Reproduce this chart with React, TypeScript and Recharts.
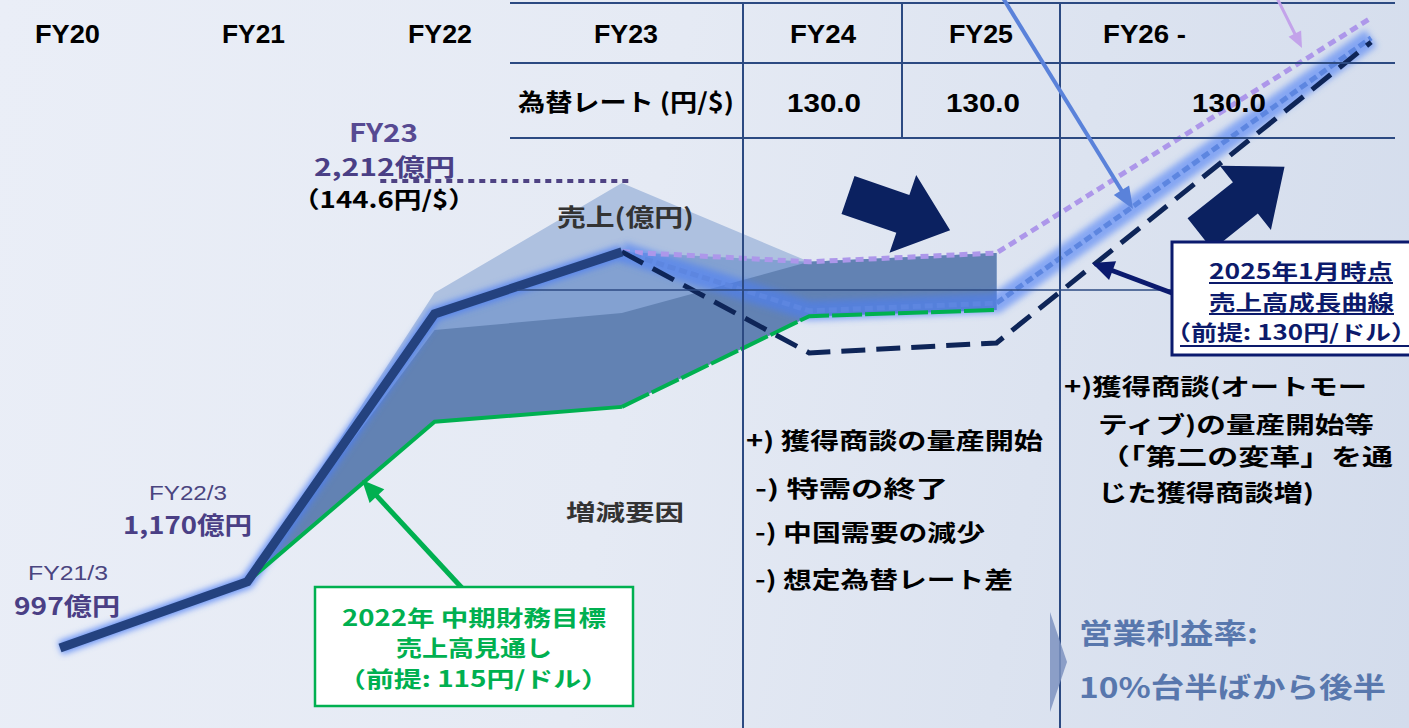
import { ComposedChart, Area, Line, XAxis, YAxis, ReferenceLine } from "recharts"

// fiscal year positions (FY26- drawn at the right edge)
const fiscalYears: number[] = [20, 21, 22, 23, 24, 25, 27]

// 売上 (億円)
const actualSales = [997, 1170, 1870, 2032, null, null, null]
const target2022 = [null, 1170, 1588, 1627, null, null, null]
const target2022Late = [null, null, null, 1627, 1864, 1880, null]
const bandBottom = [null, 1170, 1588, 1627, 1864, 1880, null]
const bandUpper = [null, 1170, 1925, 2212, 2006, 2029, null]
const bandMiddle = [null, 1170, 1870, 2032, 2006, 2029, null]
const bandLower = [null, 1170, 1828, 1872, 2006, 2029, null]
const growth2025 = [null, null, null, 2032, 1768, 1794, 2580]
const growthBlue = [null, null, null, 2032, 1878, 1898, 2591]
const growthPurple = [null, null, null, 2032, 2006, 2029, 2643]

const headerYears = ["FY20", "FY21", "FY22", "FY23", "FY24", "FY25", "FY26 -"]
const rateLabels = ["130.0", "130.0", "130.0"]

const range = (lo: number | null, hi: number | null) =>
	lo == null || hi == null ? null : [lo, hi]

const rows = fiscalYears.map((x, i) => ({
	x,
	actual: actualSales[i],
	target: target2022[i],
	targetLate: target2022Late[i],
	upper: range(bandBottom[i], bandUpper[i]),
	middle: range(bandBottom[i], bandMiddle[i]),
	lower: range(bandBottom[i], bandLower[i]),
	growth: growth2025[i],
	blue: growthBlue[i],
	purple: growthPurple[i],
}))

const JP = "'Noto Sans CJK JP', 'Noto Sans', sans-serif"
const LAT = "'Liberation Sans', 'Noto Sans CJK JP', sans-serif"

interface IT {
	x: number
	y: number
	w: number
	size: number
	color?: string
	weight?: number
	font?: string
	children: string
}

const T = ({ x, y, w, size, color = "#000", weight = 700, font = JP, children }: IT) => (
	<text x={x} y={y} fontSize={size} fill={color} fontWeight={weight} fontFamily={font}
		textLength={w} lengthAdjust="spacingAndGlyphs">{children}</text>
)

interface IArrow {
	x1: number; y1: number; x2: number; y2: number
	color: string; w: number; hl: number; hw: number
}

const Arrow = ({ x1, y1, x2, y2, color, w, hl, hw }: IArrow) => {
	const dx = x2 - x1, dy = y2 - y1
	const L = Math.hypot(dx, dy)
	const ux = dx / L, uy = dy / L
	const bx = x2 - ux * hl, by = y2 - uy * hl
	const px = -uy, py = ux
	return (
		<g>
			<line x1={x1} y1={y1} x2={bx + ux * 2} y2={by + uy * 2} stroke={color} strokeWidth={w} />
			<polygon points={`${x2},${y2} ${bx + px * hw},${by + py * hw} ${bx - px * hw},${by - py * hw}`} fill={color} />
		</g>
	)
}

const BLOCK = "0,-20 58,-20 58,-41 108,0 58,41 58,20 0,20"
const LINE = "#2c4a82"

const Overlay = () => (
	<svg width={1409} height={728} style={{ position: "absolute", left: 0, top: 0 }}>
		{/* table */}
		<g stroke={LINE} strokeWidth={2}>
			<line x1={510} y1={3} x2={1395} y2={3} />
			<line x1={510} y1={63} x2={1395} y2={63} />
			<line x1={510} y1={138} x2={1395} y2={138} />
			<line x1={743} y1={3} x2={743} y2={728} />
			<line x1={902} y1={3} x2={902} y2={138} />
			<line x1={1060} y1={3} x2={1060} y2={728} />
			<line x1={517} y1={290} x2={1172} y2={290} strokeWidth={1.5} />
		</g>
		{[35, 222, 408, 594, 790, 949, 1103].map((x, i) => (
			<T key={headerYears[i]} x={x} y={43} w={[65, 63, 64, 64, 66, 64, 83][i]} size={25} font={LAT}>{headerYears[i]}</T>
		))}
		<T x={518} y={111} w={216} size={24}>為替レート (円/$)</T>
		{[787, 946, 1192].map((x, i) => (
			<T key={x} x={x} y={112} w={74} size={25} font={LAT}>{rateLabels[i]}</T>
		))}

		{/* block arrows */}
		<polygon points={BLOCK} fill="#0b2160" transform="translate(848,195) rotate(19)" />
		<polygon points={BLOCK} fill="#0b2160" transform="translate(1200,234) rotate(-38.5)" />
		<polygon points="1050,612 1067,662 1050,712" fill="#7d92bf" opacity={0.85} />

		{/* pointer arrows */}
		<Arrow x1={1003} y1={-2} x2={1133} y2={209} color="#5a82da" w={4} hl={22} hw={9} />
		<Arrow x1={1277} y1={-2} x2={1302} y2={48} color="#c3a3ea" w={3} hl={16} hw={7} />
		<Arrow x1={1172} y1={293} x2={1092} y2={263} color="#0b1a6e" w={5} hl={22} hw={10} />
		<Arrow x1={462} y1={588} x2={362} y2={480} color="#00b050" w={5} hl={22} hw={10} />

		{/* value labels */}
		<T x={349} y={142} w={69} size={25} color="#574a92">FY23</T>
		<T x={314} y={176} w={141} size={24} color="#4a3f85">2,212億円</T>
		<T x={292} y={208} w={184} size={23}>（144.6円/$）</T>
		<T x={557} y={226} w={137} size={24} color="#333">売上(億円)</T>
		<T x={149} y={500} w={78} size={21} weight={400} font={LAT} color="#4a4580">FY22/3</T>
		<T x={123} y={534} w={129} size={24} color="#4a3f85">1,170億円</T>
		<T x={28} y={580} w={80} size={21} weight={400} font={LAT} color="#4a4580">FY21/3</T>
		<T x={14} y={615} w={106} size={24} color="#4a3f85">997億円</T>
		<T x={566} y={520} w={118} size={22} color="#333">増減要因</T>

		<T x={746} y={449} w={297} size={23}>+) 獲得商談の量産開始</T>
		<T x={755} y={497} w={193} size={23}>-) 特需の終了</T>
		<T x={755} y={541} w={230} size={23}>-) 中国需要の減少</T>
		<T x={755} y={588} w={258} size={23}>-) 想定為替レート差</T>

		<T x={1064} y={395} w={303} size={23}>+)獲得商談(オートモー</T>
		<T x={1098} y={433} w={276} size={23}>ティブ)の量産開始等</T>
		<T x={1099} y={465} w={294} size={23}>（「第二の変革」を通</T>
		<T x={1098} y={501} w={216} size={23}>じた獲得商談増)</T>

		<T x={1079} y={644} w={179} size={28} color="#5877ad">営業利益率:</T>
		<T x={1079} y={698} w={307} size={28} color="#5877ad">10%台半ばから後半</T>

		{/* green box */}
		<rect x={315} y={587} width={318} height={119} fill="#fff" stroke="#00b050" strokeWidth={2.5} />
		<T x={342} y={626} w={264} size={22} color="#00b050">2022年 中期財務目標</T>
		<T x={396} y={656} w={156} size={22} color="#00b050">売上高見通し</T>
		<T x={338} y={687} w={271} size={22} color="#00b050">（前提: 115円/ドル）</T>

		{/* navy box */}
		<rect x={1172} y={242} width={250} height={113} fill="#fff" stroke="#0b1a6e" strokeWidth={3} />
		<T x={1209} y={279} w={184} size={21} color="#0c1a6b">2025年1月時点</T>
		<T x={1209} y={310} w={185} size={21} color="#0c1a6b">売上高成長曲線</T>
		<T x={1165} y={340} w={252} size={21} color="#0c1a6b">（前提: 130円/ドル）</T>
		<g stroke="#0c1a6b" strokeWidth={2}>
			<line x1={1209} y1={283} x2={1393} y2={283} />
			<line x1={1209} y1={314} x2={1394} y2={314} />
			<line x1={1180} y1={346} x2={1409} y2={346} />
		</g>
	</svg>
)

const App = () => (
	<div style={{ position: "relative", width: 1409, height: 728, overflow: "hidden",
		background: "linear-gradient(100deg, #eaeef7 0%, #e5eaf4 45%, #d3dcec 100%)" }}>
		<style>{"body{margin:0}"}</style>
		<ComposedChart width={1409} height={728} data={rows} margin={{ top: 0, right: 0, bottom: 0, left: 0 }}>
			<defs>
				<filter id="glow" x="-20%" y="-20%" width="140%" height="140%">
					<feGaussianBlur stdDeviation={3} />
				</filter>
			</defs>
			<XAxis type="number" dataKey="x" domain={[19.6797, 27.2023]} hide allowDataOverflow />
			<YAxis type="number" domain={[788, 2690]} hide allowDataOverflow />
			<Area type="linear" dataKey="upper" fill="#aec1e0" fillOpacity={1} stroke="none" isAnimationActive={false} activeDot={false} />
			<Area type="linear" dataKey="middle" fill="#83a1d1" fillOpacity={1} stroke="none" isAnimationActive={false} activeDot={false} />
			<Area type="linear" dataKey="lower" fill="#6282b3" fillOpacity={1} stroke="none" isAnimationActive={false} activeDot={false} />
			<ReferenceLine segment={[{ x: 21.71, y: 2217 }, { x: 23.04, y: 2217 }]} stroke="#4e4283" strokeWidth={4} strokeDasharray="6 5" />

			<Line type="linear" dataKey="actual" stroke="#4d7ef5" strokeWidth={14} strokeOpacity={0.8} filter="url(#glow)" dot={false} activeDot={false} isAnimationActive={false} />
			<Line type="linear" dataKey="blue" stroke="#4d7ef5" strokeWidth={20} strokeOpacity={0.6} filter="url(#glow)" dot={false} activeDot={false} isAnimationActive={false} />
			<Line type="linear" dataKey="target" stroke="#00b050" strokeWidth={4} dot={false} activeDot={false} isAnimationActive={false} />
			<Line type="linear" dataKey="targetLate" stroke="#00b050" strokeWidth={4} strokeDasharray="30 3" dot={false} activeDot={false} isAnimationActive={false} />
			<Line type="linear" dataKey="purple" stroke="#ad97ea" strokeWidth={5} strokeDasharray="8 5" dot={false} activeDot={false} isAnimationActive={false} />
			<Line type="linear" dataKey="blue" stroke="#5d86e0" strokeWidth={5} strokeDasharray="8 4" dot={false} activeDot={false} isAnimationActive={false} />
			<Line type="linear" dataKey="growth" stroke="#0e2558" strokeWidth={5} strokeDasharray="24 11" dot={false} activeDot={false} isAnimationActive={false} />
			<Line type="linear" dataKey="actual" stroke="#24427f" strokeWidth={9} dot={false} activeDot={false} isAnimationActive={false} />
		</ComposedChart>
		<Overlay />
	</div>
)

export default App
